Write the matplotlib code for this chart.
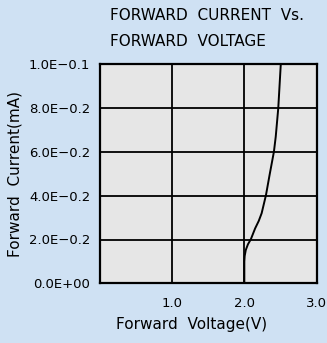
import matplotlib
matplotlib.use("Agg")
import matplotlib.pyplot as plt
from matplotlib.ticker import FixedLocator

# forward voltage (V) vs forward current (mA)
voltage = [2.00, 2.00, 2.00, 2.005, 2.02, 2.05, 2.09, 2.15, 2.20, 2.24, 2.30, 2.35, 2.41, 2.435, 2.47, 2.505]
current = [0.000, 0.005, 0.010, 0.0125, 0.0152, 0.0178, 0.0201, 0.0251, 0.0285, 0.032, 0.0403, 0.0495, 0.0601, 0.0669, 0.0799, 0.100]

y_ticks = [0.0, 0.02, 0.04, 0.06, 0.08, 0.10]
y_labels = ["0.0E+00", "2.0E\u22120.2", "4.0E\u22120.2", "6.0E\u22120.2", "8.0E\u22120.2", "1.0E\u22120.1"]
x_ticks = [1.0, 2.0, 3.0]
x_labels = ["1.0", "2.0", "3.0"]

bg = "#cfe1f3"
fig = plt.figure(figsize=(3.27, 3.43), dpi=100, facecolor=bg)
W, H = 327, 343
left, right, top, bottom = 100, 316.5, 64.3, 283.3
ax = fig.add_axes([left / W, 1 - bottom / H, (right - left) / W, (bottom - top) / H])
ax.set_facecolor("#e6e6e6")

ax.plot(voltage, current, color="black", lw=1.4)

ax.set_xlim(0, 3.0)
ax.set_ylim(0, 0.1)
ax.xaxis.set_major_locator(FixedLocator(x_ticks))
ax.set_xticklabels(x_labels)
ax.set_yticks(y_ticks)
ax.set_yticklabels(y_labels)
ax.grid(True, color="black", lw=1.3)
ax.tick_params(length=0, labelsize=9.5)
ax.tick_params(axis="y", pad=7)
ax.tick_params(axis="x", pad=10)
for s in ax.spines.values():
    s.set_linewidth(1.6)

fig.text(110 / W, 1 - 16 / H, "FORWARD  CURRENT  Vs.", ha="left", va="center", fontsize=11)
fig.text(110 / W, 1 - 41 / H, "FORWARD  VOLTAGE", ha="left", va="center", fontsize=11)
fig.text(192 / W, 1 - 325 / H, "Forward  Voltage(V)", ha="center", va="center", fontsize=11)
fig.text(15 / W, 1 - 174 / H, "Forward  Current(mA)", ha="center", va="center",
         rotation=90, fontsize=11)

fig.savefig("out.png", dpi=100, facecolor=bg)
